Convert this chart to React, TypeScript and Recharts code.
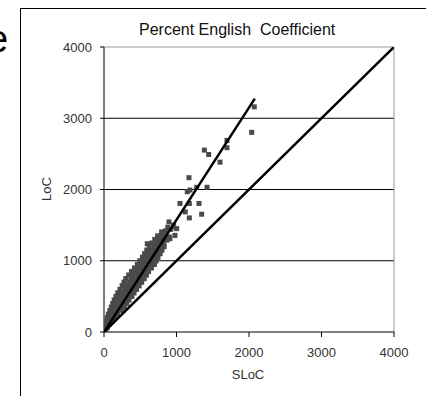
import { ScatterChart, Scatter, XAxis, YAxis, CartesianGrid, ReferenceLine, Label } from 'recharts'

// [SLoC, LoC] pairs
const bandPoints: [number, number][] = [
  [8, 30], [20, 25],
  [12, 60], [30, 55], [45, 65],
  [20, 100], [45, 95], [70, 105],
  [30, 150], [60, 145], [90, 155], [110, 150],
  [45, 200], [80, 195], [115, 205], [150, 198],
  [60, 250], [100, 245], [140, 255], [185, 250],
  [80, 300], [120, 295], [170, 305], [220, 300], [245, 310],
  [100, 350], [150, 345], [200, 355], [250, 350], [280, 345],
  [120, 400], [175, 395], [230, 405], [280, 400], [315, 398],
  [140, 450], [200, 445], [260, 455], [310, 450], [345, 448],
  [165, 500], [225, 495], [285, 505], [340, 500], [385, 498],
  [190, 550], [255, 545], [315, 555], [370, 550], [415, 548],
  [220, 600], [285, 595], [345, 605], [400, 600], [450, 598],
  [250, 650], [310, 645], [375, 655], [430, 650], [485, 648],
  [275, 700], [340, 695], [400, 705], [460, 700], [520, 698],
  [300, 750], [370, 745], [430, 755], [490, 750], [555, 748],
  [340, 800], [405, 795], [465, 805], [525, 800], [585, 798],
  [380, 850], [440, 845], [500, 855], [560, 850], [615, 848],
  [420, 900], [480, 895], [540, 905], [600, 900], [655, 898],
  [460, 950], [520, 945], [580, 955], [640, 950], [695, 948],
  [495, 1000], [555, 995], [615, 1005], [670, 1000], [720, 998],
  [530, 1050], [590, 1045], [650, 1055], [700, 1050], [745, 1048],
  [560, 1100], [620, 1095], [680, 1105], [730, 1100], [775, 1098],
  [590, 1150], [650, 1145], [710, 1155], [760, 1150], [800, 1148],
  [625, 1200], [690, 1195], [745, 1205], [790, 1200], [830, 1198],
  [660, 1250], [720, 1245], [775, 1255], [825, 1250],
  [700, 1300], [755, 1295], [810, 1305], [870, 1290],
  [740, 1350], [790, 1345], [845, 1355], [900, 1335],
  [800, 1400], [850, 1420], [920, 1440], [880, 1470], [960, 1500],
]

const outlierPoints: [number, number][] = [
  [597, 1239], [809, 1332], [910, 1310], [979, 1356], [796, 1404],
  [1002, 1451], [956, 1474], [896, 1545], [1177, 1601], [1121, 1686],
  [1347, 1653], [1048, 1804], [1177, 1804], [1310, 1804], [1149, 1969],
  [1186, 1992], [1278, 2030], [1421, 2031], [1172, 2166], [1600, 2384],
  [1444, 2491], [1384, 2553], [1696, 2586], [1696, 2689], [2037, 2802],
  [2073, 3160],
]

const fitLine: [number, number][] = [[0, 0], [2080, 3275]]
const identityLine: [number, number][] = [[0, 0], [4000, 4000]]

const xTicks = [0, 1000, 2000, 3000, 4000]
const yTicks = [0, 1000, 2000, 3000, 4000]
const gridValues = [1000, 2000, 3000]

const FONT = '"Liberation Sans", Arial, sans-serif'
const POINT_COLOR = '#4a4a4a'
const toXY = (pts: [number, number][]) => pts.map(([x, y]) => ({ x, y }))

const tickStyle = { fontSize: 13, fill: '#333', fontFamily: FONT }

const SquareDot = (props: any) => (
  <rect x={props.cx - 2.5} y={props.cy - 2.5} width={5} height={5} fill={POINT_COLOR} />
)

export default function App() {
  return (
    <div style={{ position: 'absolute', left: 0, top: 0, width: 426, height: 396, overflow: 'hidden', background: '#fff' }}>
      <div style={{ position: 'absolute', left: 20, top: 8, width: 420, height: 400, borderTop: '1px solid #000', borderLeft: '1px solid #000' }} />
      <div style={{ position: 'absolute', left: -13, top: 20, fontSize: 38, lineHeight: 1, fontFamily: FONT, color: '#000' }}>e</div>
      <div style={{ position: 'absolute', left: 139, top: 22, fontSize: 16, lineHeight: 1, fontFamily: FONT, color: '#111', whiteSpace: 'pre' }}>
        Percent English  Coefficient
      </div>
      <ScatterChart width={426} height={396} margin={{ top: 47, right: 32, bottom: 34, left: 44 }}>
        <CartesianGrid vertical={false} horizontalValues={gridValues} stroke="#000" strokeWidth={1} />
        <XAxis
          type="number"
          dataKey="x"
          domain={[0, 4000]}
          ticks={xTicks}
          height={30}
          tickSize={5}
          tickMargin={11}
          stroke="#000"
          tick={tickStyle}
          allowDataOverflow
        >
          <Label
            content={() => (
              <text x={248} y={379} textAnchor="middle" fontSize={13} fill="#333" fontFamily={FONT}>
                SLoC
              </text>
            )}
          />
        </XAxis>
        <YAxis
          type="number"
          dataKey="y"
          domain={[0, 4000]}
          ticks={yTicks}
          width={60}
          tickSize={4}
          tickMargin={8}
          stroke="#000"
          tick={tickStyle}
          allowDataOverflow
        >
          <Label
            content={() => (
              <text x={51} y={189} transform="rotate(-90 51 189)" textAnchor="middle" fontSize={13} fill="#333" fontFamily={FONT}>
                LoC
              </text>
            )}
          />
        </YAxis>
        <ReferenceLine y={4000} stroke="#999" />
        <ReferenceLine x={4000} stroke="#999" />
        <Scatter data={toXY(bandPoints)} shape={SquareDot} isAnimationActive={false} />
        <Scatter data={toXY(outlierPoints)} shape={SquareDot} isAnimationActive={false} />
        <Scatter
          data={toXY(fitLine)}
          line={{ stroke: '#000', strokeWidth: 2.5 }}
          shape={() => <g />}
          isAnimationActive={false}
        />
        <Scatter
          data={toXY(identityLine)}
          line={{ stroke: '#000', strokeWidth: 2.5 }}
          shape={() => <g />}
          isAnimationActive={false}
        />
      </ScatterChart>
    </div>
  )
}
